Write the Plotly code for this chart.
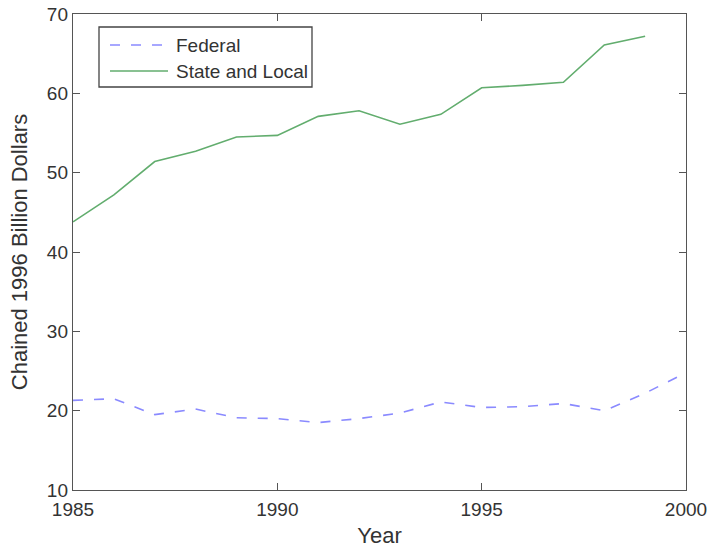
import plotly.graph_objects as go

# Government investment, chained 1996 billion dollars
years_state = list(range(1985, 2000))
state_local = [43.8, 47.2, 51.4, 52.7, 54.5, 54.7, 57.1, 57.8, 56.1, 57.35,
               60.7, 61.0, 61.4, 66.1, 67.2]

years_fed = list(range(1985, 2001))
federal = [21.3, 21.5, 19.5, 20.2, 19.1, 19.0, 18.5, 19.0, 19.7, 21.1,
           20.4, 20.5, 20.9, 20.0, 22.2, 24.8]

x_ticks = [1985, 1990, 1995, 2000]
y_ticks = [10, 20, 30, 40, 50, 60, 70]

font_family = "Liberation Sans, Arial, sans-serif"
text_color = "#333333"
frame_color = "#555555"
fed_color = "#8a8aff"
state_color = "#62ad6e"
fed_dash = "10px,11px"

W, H = 712, 548
L, R, T, B = 73, 26, 14, 58
plot_w, plot_h = W - L - R, H - T - B


def px_x(px):
    return (px - L) / plot_w


def px_y(py):
    return (H - B - py) / plot_h


fig = go.Figure()
fig.add_trace(go.Scatter(
    x=years_fed, y=federal, mode="lines", name="Federal",
    line=dict(color=fed_color, width=1.6, dash=fed_dash), showlegend=False,
))
fig.add_trace(go.Scatter(
    x=years_state, y=state_local, mode="lines", name="State and Local",
    line=dict(color=state_color, width=1.6), showlegend=False,
))

axis_common = dict(
    showline=True, mirror="ticks", linecolor=frame_color, linewidth=1.4,
    ticks="inside", ticklen=7, tickwidth=1.2, tickcolor=frame_color,
    showgrid=False, zeroline=False, automargin=False,
    tickfont=dict(family=font_family, size=19, color=text_color),
)

# Boxed legend drawn with long line samples
legend_shapes = [
    dict(type="rect", xref="paper", yref="paper",
         x0=px_x(99), x1=px_x(312), y0=px_y(87), y1=px_y(27),
         line=dict(color="#444444", width=1.3), fillcolor="white", layer="above"),
]
legend_notes = []
for tr, row_y in zip(fig.data, (45, 71)):
    legend_shapes.append(dict(
        type="line", xref="paper", yref="paper",
        x0=px_x(110), x1=px_x(168), y0=px_y(row_y), y1=px_y(row_y),
        line=dict(color=tr.line.color, width=1.6, dash=tr.line.dash or "solid"),
        layer="above",
    ))
    legend_notes.append(dict(
        xref="paper", yref="paper", x=px_x(174), y=px_y(row_y),
        xanchor="left", yanchor="middle", showarrow=False, text=tr.name,
        font=dict(family=font_family, size=19, color=text_color),
    ))

fig.update_layout(
    width=W, height=H,
    margin=dict(l=L, r=R, t=T, b=B),
    paper_bgcolor="white", plot_bgcolor="white",
    font=dict(family=font_family, color=text_color),
    xaxis=dict(range=[1985, 2000], tickvals=x_ticks, ticklabelstandoff=2,
               title=dict(text="Year", font=dict(size=22, color=text_color), standoff=9),
               **axis_common),
    yaxis=dict(range=[10, 70], tickvals=y_ticks,
               title=dict(text="Chained 1996 Billion Dollars",
                          font=dict(size=22, color=text_color), standoff=13),
               **axis_common),
    shapes=legend_shapes,
    annotations=legend_notes,
    showlegend=False,
)

fig.write_html("out.html")
